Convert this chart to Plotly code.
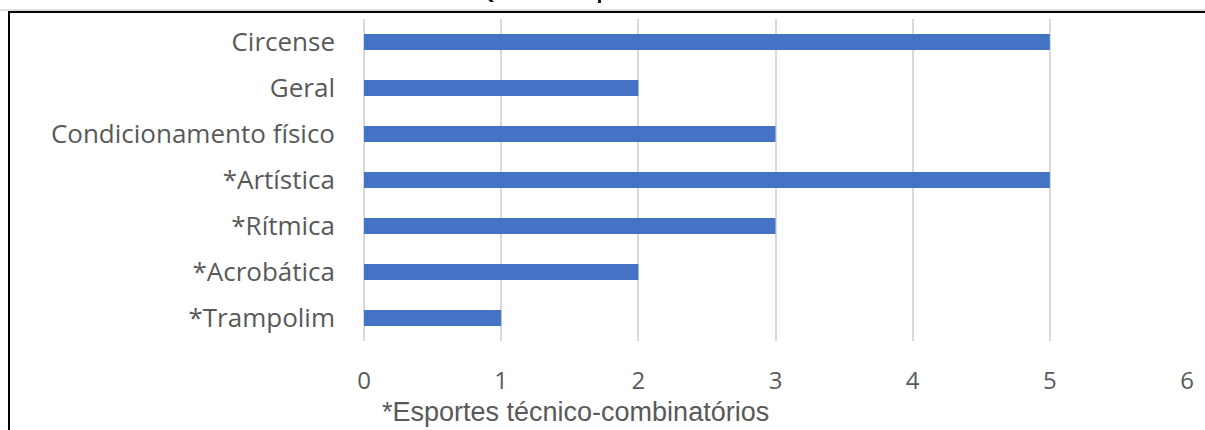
import plotly.graph_objects as go

categories = ["Circense", "Geral", "Condicionamento físico", "*Artística",
              "*Rítmica", "*Acrobática", "*Trampolim"]
values = [5, 2, 3, 5, 3, 2, 1]
x_ticks = [0, 1, 2, 3, 4, 5, 6]

title_text = "Quantidade por modalidade"
footnote = "*Esportes técnico-combinatórios"

W, H = 1205, 430
L, R, T, B = 364, 18, 19, 89
pw, ph = W - L - R, H - T - B

def px_x(px):
    return (px - L) / pw

def px_y(py):
    return (H - B - py) / ph

fig = go.Figure(go.Bar(
    x=values, y=categories, orientation="h",
    marker=dict(color="#4472C4", line=dict(width=0)),
    width=0.35,
))

fig.update_layout(
    width=W, height=H,
    margin=dict(l=L, r=R, t=T, b=B),
    paper_bgcolor="white", plot_bgcolor="white",
    showlegend=False,
    font=dict(family="Open Sans", color="#595959"),
    xaxis=dict(
        range=[0, 6], tickvals=x_ticks, showgrid=True,
        gridcolor="#D9D9D9", gridwidth=2, zeroline=True,
        zerolinecolor="#D9D9D9", zerolinewidth=2,
        tickfont=dict(size=24, color="#595959"),
        ticklabelstandoff=23, showline=False, fixedrange=True,
    ),
    yaxis=dict(
        categoryorder="array", categoryarray=categories,
        autorange="reversed", showgrid=False, zeroline=False,
        tickfont=dict(size=26, color="#595959"),
        ticklabelstandoff=28, showline=False,
    ),
    shapes=[
        dict(type="line", xref="paper", yref="paper",
             x0=px_x(0), x1=px_x(W + 5), y0=px_y(10), y1=px_y(10),
             line=dict(color="#BFBFBF", width=1)),
        dict(type="line", xref="paper", yref="paper",
             x0=px_x(8), x1=px_x(W + 5), y0=px_y(12), y1=px_y(12),
             line=dict(color="black", width=2)),
        dict(type="line", xref="paper", yref="paper",
             x0=px_x(9), x1=px_x(9), y0=px_y(11), y1=px_y(H + 5),
             line=dict(color="black", width=2)),
    ],
    annotations=[
        dict(text=f"<b>{title_text}</b>", xref="paper", yref="paper",
             x=px_x(612), y=px_y(6), xanchor="center", yanchor="bottom",
             showarrow=False, font=dict(family="Lato", size=22, color="black")),
        dict(text=footnote, xref="paper", yref="paper",
             x=px_x(380), y=px_y(412), xanchor="left", yanchor="middle",
             showarrow=False,
             font=dict(family="Liberation Sans", size=27, color="#595959")),
    ],
)

fig.write_html("out.html")
